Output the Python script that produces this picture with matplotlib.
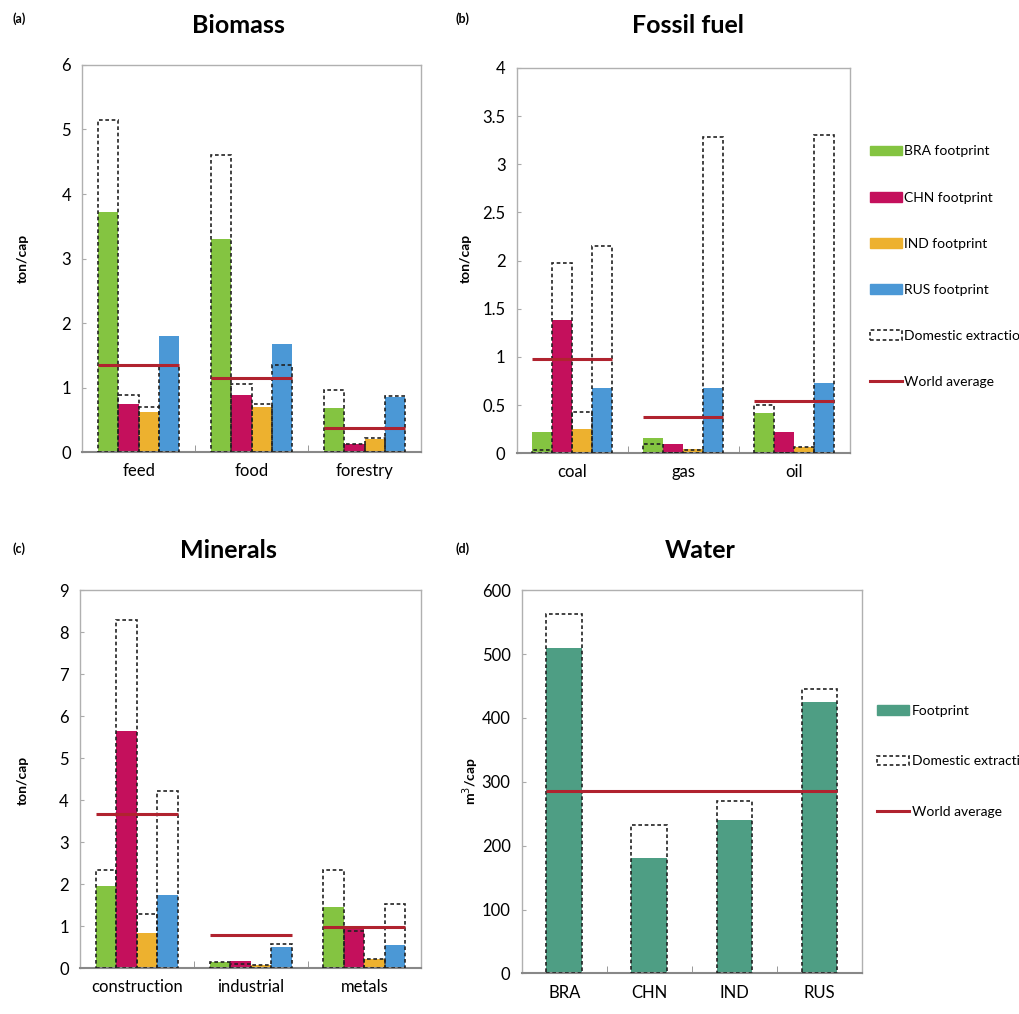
import matplotlib.pyplot as plt
from matplotlib.patches import Patch
from matplotlib.lines import Line2D

plt.rcParams['font.family'] = ['Lato', 'DejaVu Sans']

# colours
colors = {"BRA": "#84C441", "CHN": "#C4105C", "IND": "#EDB12F", "RUS": "#4B98D6"}
water_color = "#4E9E84"
avg_color = "#B0232F"

countries = ["BRA", "CHN", "IND", "RUS"]

# (a) Biomass, ton/cap
bio_cats = ["feed", "food", "forestry"]
bio_foot = {"BRA": [3.72, 3.30, 0.68], "CHN": [0.75, 0.88, 0.13],
            "IND": [0.63, 0.70, 0.20], "RUS": [1.80, 1.67, 0.85]}
bio_dom = {"BRA": [5.15, 4.60, 0.97], "CHN": [0.88, 1.05, 0.13],
           "IND": [0.70, 0.75, 0.22], "RUS": [1.33, 1.35, 0.87]}
bio_avg = [1.35, 1.15, 0.38]

# (b) Fossil fuel, ton/cap
fos_cats = ["coal", "gas", "oil"]
fos_foot = {"BRA": [0.22, 0.16, 0.42], "CHN": [1.38, 0.10, 0.22],
            "IND": [0.25, 0.04, 0.07], "RUS": [0.68, 0.68, 0.73]}
fos_dom = {"BRA": [0.03, 0.10, 0.50], "CHN": [1.98, 0.0, 0.0],
           "IND": [0.43, 0.03, 0.06], "RUS": [2.15, 3.28, 3.30]}
fos_avg = [0.98, 0.38, 0.54]

# (c) Minerals, ton/cap
min_cats = ["construction", "industrial", "metals"]
min_foot = {"BRA": [1.97, 0.15, 1.45], "CHN": [5.65, 0.18, 0.93],
            "IND": [0.85, 0.07, 0.22], "RUS": [1.75, 0.50, 0.55]}
min_dom = {"BRA": [2.35, 0.15, 2.35], "CHN": [8.30, 0.10, 0.90],
           "IND": [1.30, 0.07, 0.22], "RUS": [4.22, 0.58, 1.52]}
min_avg = [3.68, 0.80, 0.98]

# (d) Water, m3/cap
wat_foot = [510, 180, 240, 425]
wat_dom = [562, 232, 270, 445]
wat_avg = 285

dash = (0, (2.2, 1.6))
fig = plt.figure(figsize=(10.19, 10.14), dpi=100)


def style_axes(ax, ymax, ystep, ncat, labels):
    ax.set_xlim(-0.5, ncat - 0.5)
    ax.set_ylim(0, ymax)
    ticks = [i * ystep for i in range(int(round(ymax / ystep)) + 1)]
    ax.set_yticks(ticks)
    ax.set_yticklabels([("%g" % t) for t in ticks], fontsize=12)
    ax.set_xticks(range(ncat))
    ax.set_xticklabels(labels, fontsize=12)
    ax.set_xticks([i + 0.5 for i in range(ncat - 1)], minor=True)
    ax.tick_params(axis='x', which='major', length=0, pad=8)
    ax.tick_params(axis='x', which='minor', direction='in', length=5, color='#888888')
    ax.tick_params(axis='y', direction='in', length=3, color='#aaaaaa', pad=8)
    for s in ax.spines.values():
        s.set_color('#b0b0b0')
        s.set_linewidth(1.0)
    ax.spines['bottom'].set_color('#888888')
    ax.spines['bottom'].set_linewidth(1.5)


def grouped(ax, cats, foot, dom, avg):
    w = 0.18
    n = len(cats)
    for k, c in enumerate(countries):
        xs = [i + (k - 1.5) * w for i in range(n)]
        ax.bar(xs, foot[c], w, color=colors[c], zorder=2)
    for k, c in enumerate(countries):
        xs = [i + (k - 1.5) * w for i in range(n)]
        ax.bar(xs, dom[c], w, fill=False, edgecolor='#222222', linestyle=dash,
               linewidth=1.2, zorder=3)
    for i in range(n):
        ax.hlines(avg[i], i - 2 * w, i + 2 * w, color=avg_color, linewidth=2.2, zorder=4)


ax_a = fig.add_axes([0.0805, 0.554, 0.3327, 0.382])
grouped(ax_a, bio_cats, bio_foot, bio_dom, bio_avg)
style_axes(ax_a, 6, 1, 3, bio_cats)

ax_b = fig.add_axes([0.507, 0.553, 0.327, 0.380])
grouped(ax_b, fos_cats, fos_foot, fos_dom, fos_avg)
style_axes(ax_b, 4, 0.5, 3, fos_cats)

ax_c = fig.add_axes([0.0785, 0.045, 0.335, 0.373])
grouped(ax_c, min_cats, min_foot, min_dom, min_avg)
style_axes(ax_c, 9, 1, 3, min_cats)

ax_d = fig.add_axes([0.512, 0.040, 0.334, 0.378])
wx = range(len(countries))
ax_d.bar(wx, wat_foot, 0.42, color=water_color, zorder=2)
ax_d.bar(wx, wat_dom, 0.42, fill=False, edgecolor='#222222', linestyle=dash,
         linewidth=1.2, zorder=3)
ax_d.hlines(wat_avg, -0.21, len(countries) - 1 + 0.21, color=avg_color, linewidth=2.2, zorder=4)
style_axes(ax_d, 600, 100, 4, countries)

# titles and labels
for x, y, t in [(0.234, 0.975, "Biomass"), (0.675, 0.975, "Fossil fuel"),
                (0.224, 0.457, "Minerals"), (0.687, 0.457, "Water")]:
    fig.text(x, y, t, fontsize=18, fontweight='bold', ha='center', va='center')
for x, y, t in [(0.012, 0.982, "(a)"), (0.447, 0.982, "(b)"),
                (0.012, 0.459, "(c)"), (0.447, 0.459, "(d)")]:
    fig.text(x, y, t, fontsize=9, fontweight='bold', ha='left', va='center')
for x, y, t in [(0.022, 0.745, "ton/cap"), (0.457, 0.745, "ton/cap"),
                (0.022, 0.230, "ton/cap"), (0.462, 0.230, "m$^3$/cap")]:
    fig.text(x, y, t, fontsize=10, fontweight='bold', rotation=90, ha='center', va='center')

dom_handle = Patch(facecolor='white', edgecolor='#222222', linestyle=dash, linewidth=1.2)
avg_handle = Line2D([0], [0], color=avg_color, linewidth=2.2)
handles = [Patch(color=colors[c]) for c in countries] + [dom_handle, avg_handle]
labels = [c + " footprint" for c in countries] + ["Domestic extraction", "World average"]
fig.legend(handles, labels, loc='upper left', bbox_to_anchor=(0.848, 0.862), frameon=False,
           fontsize=10, labelspacing=2.45, handlelength=2.3, handletextpad=0.2,
           borderaxespad=0)

wat_handles = [Patch(color=water_color), dom_handle, avg_handle]
wat_labels = ["Footprint", "Domestic extraction", "World average"]
fig.legend(wat_handles, wat_labels, loc='upper left', bbox_to_anchor=(0.855, 0.310),
           frameon=False, fontsize=10, labelspacing=2.75, handlelength=2.3,
           handletextpad=0.2, borderaxespad=0)

fig.savefig("out.png", dpi=100)
